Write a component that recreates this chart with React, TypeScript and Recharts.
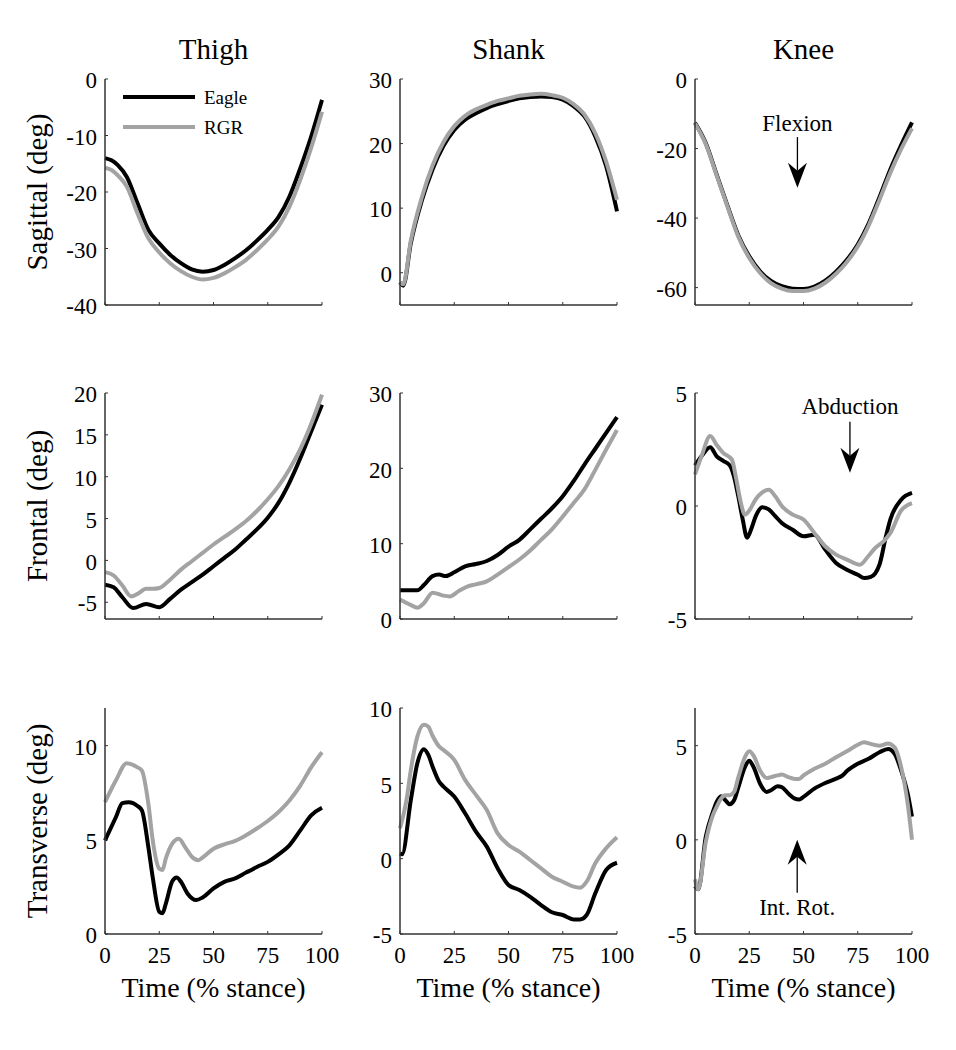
import React from 'react';
import { LineChart, Line, XAxis, YAxis, ReferenceLine, ReferenceDot, Legend } from 'recharts';

type Pt = [number, number];

// [time % stance, angle deg]
const thighSagEagle: Pt[] = [[0,-14],[3,-14.4],[6,-15.3],[10,-17.3],[15,-22],[20,-26.7],[25,-29.1],[30,-31.1],[35,-32.6],[40,-33.7],[45,-34.1],[50,-33.8],[55,-32.9],[60,-31.7],[65,-30.3],[70,-28.6],[75,-26.7],[80,-24.4],[85,-20.8],[90,-15.8],[95,-10.2],[100,-3.7]];
const thighSagRgr: Pt[] = [[0,-15.7],[3,-16.1],[6,-17.1],[10,-19],[15,-23.8],[20,-28.2],[25,-30.7],[30,-32.6],[35,-34],[40,-35],[45,-35.5],[50,-35.2],[55,-34.4],[60,-33.3],[65,-32],[70,-30.3],[75,-28.4],[80,-26.1],[85,-22.6],[90,-17.8],[95,-12.2],[100,-5.8]];
const shankSagEagle: Pt[] = [[0,-1.5],[1.5,-2],[5,4.6],[10,11.1],[15,16],[20,19.6],[25,22.1],[30,23.7],[35,24.7],[40,25.5],[45,26.1],[50,26.6],[55,27],[60,27.2],[65,27.3],[70,27.2],[75,26.8],[80,25.8],[85,24.2],[90,21.1],[95,16.5],[100,9.5]];
const shankSagRgr: Pt[] = [[0,-1.5],[1.5,-1.8],[5,5],[10,11.6],[15,16.6],[20,20.2],[25,22.7],[30,24.3],[35,25.3],[40,26],[45,26.6],[50,27],[55,27.4],[60,27.6],[65,27.7],[70,27.5],[75,27.1],[80,26.1],[85,24.5],[90,21.6],[95,17.2],[100,11.3]];
const kneeSagEagle: Pt[] = [[0,-12.6],[5,-18.5],[10,-27.5],[15,-36.5],[20,-45],[25,-51],[30,-55.3],[35,-58.1],[40,-59.6],[45,-60.3],[50,-60.4],[55,-59.7],[60,-58],[65,-55.4],[70,-52],[75,-47.6],[80,-41.6],[85,-34],[90,-26],[95,-19],[100,-12.5]];
const kneeSagRgr: Pt[] = [[0,-12.8],[5,-18.8],[10,-27.8],[15,-36.8],[20,-45.4],[25,-51.5],[30,-55.8],[35,-58.7],[40,-60.3],[45,-61],[50,-61],[55,-60.3],[60,-58.6],[65,-56],[70,-52.6],[75,-48.2],[80,-42.2],[85,-34.8],[90,-27],[95,-20.2],[100,-14.2]];

const thighFrontEagle: Pt[] = [[0,-2.9],[4,-3.2],[8,-4.4],[13,-5.7],[19,-5.2],[25,-5.6],[30,-4.6],[35,-3.5],[40,-2.6],[45,-1.7],[50,-0.7],[55,0.3],[60,1.3],[65,2.5],[70,3.7],[75,5.1],[80,6.9],[85,9.3],[90,12.2],[95,15.4],[100,18.6]];
const thighFrontRgr: Pt[] = [[0,-1.4],[4,-1.8],[8,-3],[12,-4.3],[15,-4],[19,-3.4],[22,-3.4],[25,-3.3],[30,-2.3],[35,-1.1],[40,-0.1],[45,0.9],[50,1.9],[55,2.8],[60,3.7],[65,4.7],[70,5.9],[75,7.3],[80,8.9],[85,10.9],[90,13.3],[95,16.3],[100,19.8]];
const shankFrontEagle: Pt[] = [[0,3.8],[4,3.8],[8,3.8],[11,4.5],[15,5.7],[18,5.9],[21,5.7],[25,6.2],[30,7],[35,7.3],[40,7.7],[45,8.5],[50,9.6],[55,10.5],[60,11.9],[65,13.3],[70,14.7],[75,16.3],[80,18.3],[85,20.5],[90,22.6],[95,24.7],[100,26.8]];
const shankFrontRgr: Pt[] = [[0,2.6],[4,2],[8,1.5],[11,2.1],[15,3.5],[20,3.1],[23,3],[27,3.7],[31,4.3],[35,4.6],[40,5],[45,5.9],[50,6.9],[55,7.9],[60,9.1],[65,10.5],[70,11.9],[75,13.6],[80,15.4],[85,17.2],[90,19.8],[95,22.5],[100,25.1]];
const kneeFrontEagle: Pt[] = [[0,1.8],[3,2.2],[7,2.6],[10,2.2],[13,2],[16,1.8],[18,1.3],[20,0.4],[22,-0.6],[24,-1.4],[26,-1],[28,-0.45],[31,-0.05],[34,-0.15],[37,-0.45],[40,-0.75],[45,-1.05],[50,-1.34],[55,-1.27],[60,-1.93],[65,-2.52],[70,-2.82],[75,-3.04],[78,-3.19],[81,-3.14],[85,-2.6],[88,-1.34],[90,-0.6],[95,0.28],[100,0.58]];
const kneeFrontRgr: Pt[] = [[0,1.4],[3,2.2],[7,3.1],[10,2.7],[13,2.35],[17,2.05],[19,1.2],[21,0.2],[23,-0.38],[25,-0.2],[28,0.3],[31,0.6],[34,0.72],[37,0.43],[40,0],[45,-0.38],[50,-0.6],[55,-1.19],[60,-1.78],[65,-2.15],[70,-2.37],[76,-2.6],[80,-2.2],[83,-1.86],[87,-1.55],[90,-1.2],[95,-0.2],[100,0.13]];

const thighTransEagle: Pt[] = [[0,4.97],[5,6.2],[8,6.95],[11,7],[15,6.8],[17,6.56],[20,4.6],[22,3],[25,1.18],[26.5,1.1],[28,1.6],[31,2.8],[33,3],[35,2.77],[38,2.15],[42,1.8],[45,1.94],[50,2.42],[55,2.77],[60,2.95],[65,3.26],[70,3.56],[75,3.83],[80,4.23],[85,4.71],[90,5.5],[95,6.3],[100,6.7]];
const thighTransRgr: Pt[] = [[0,7],[5,8.15],[10,9.07],[15,8.85],[17,8.68],[20,6.9],[22,4.97],[25,3.47],[26.5,3.4],[28,4],[31,4.8],[34,5.06],[37,4.6],[40,4.1],[43,3.92],[45,4.06],[50,4.53],[55,4.76],[60,4.94],[65,5.24],[70,5.6],[75,6],[80,6.48],[85,7.09],[90,7.88],[95,8.85],[100,9.65]];
const shankTransEagle: Pt[] = [[0,0.35],[1,0.3],[5,3.9],[8,6.34],[11,7.27],[13,6.9],[15,6.12],[18,5.12],[20,4.79],[25,4.12],[30,3.01],[35,1.79],[40,0.8],[45,-0.64],[50,-1.75],[55,-2.08],[60,-2.53],[65,-3.08],[70,-3.56],[75,-3.74],[80,-4.03],[83,-4.03],[86,-3.74],[90,-2.3],[95,-0.75],[100,-0.27]];
const shankTransRgr: Pt[] = [[0,2.02],[3,3.9],[5,5.9],[8,8.1],[11,8.89],[13,8.77],[15,8.16],[18,7.45],[20,7.22],[25,6.56],[30,5.23],[35,4.23],[40,3.23],[45,1.68],[50,0.91],[55,0.47],[60,-0.09],[65,-0.64],[70,-1.2],[75,-1.53],[80,-1.86],[83,-1.93],[86,-1.53],[90,-0.31],[95,0.69],[100,1.42]];
const kneeTransEagle: Pt[] = [[0,-2.46],[1.5,-2.63],[5,0.18],[8,1.4],[10,2.02],[12,2.32],[14,2.1],[16,1.89],[18,2.1],[20,2.8],[23,3.86],[25,4.2],[27,3.86],[30,2.98],[33,2.54],[35,2.63],[38,2.84],[40,2.8],[43,2.46],[46,2.19],[48,2.14],[50,2.28],[55,2.72],[60,3.02],[65,3.25],[68,3.42],[70,3.65],[75,4.04],[80,4.3],[85,4.65],[89,4.82],[92,4.56],[95,3.68],[98,2.46],[100,1.23]];
const kneeTransRgr: Pt[] = [[0,-2.1],[1.5,-2.63],[5,-0.09],[8,1.23],[10,1.75],[12,2.19],[14,2.37],[16,2.37],[18,2.54],[20,3.33],[23,4.39],[25,4.7],[27,4.47],[30,3.68],[33,3.28],[35,3.33],[38,3.42],[40,3.47],[43,3.33],[46,3.23],[48,3.23],[50,3.42],[55,3.77],[60,4.04],[65,4.39],[70,4.7],[75,5.05],[78,5.18],[80,5.12],[85,5],[89,5.12],[92,4.91],[95,3.86],[98,1.93],[100,0]];

const timeTicks = [0, 25, 50, 75, 100];
const colTitles = ['Thigh', 'Shank', 'Knee'];
const rowLabels = ['Sagittal (deg)', 'Frontal (deg)', 'Transverse (deg)'];

const FONT = '"Liberation Serif", "Times New Roman", serif';
const AXIS = '#333';
const GRAY = '#a3a3a3';

const PLOT_W = 217;
const PLOT_H = 226;
const AX_W = 100;
const TOP = 60;
const RIGHT = 32;
const AX_H = 100;
const colX = [105, 400, 695];
const rowY = [79, 393, 708];

const toRows = (pts: Pt[]) => pts.map(([t, v]) => ({ t, v }));

type Note = { text: string; x: number; textY: number; from: number; to: number };

type PanelCfg = {
  row: number;
  col: number;
  eagle: Pt[];
  rgr: Pt[];
  domain: [number, number];
  ticks: number[];
  note?: Note;
  legend?: boolean;
};

const panels: PanelCfg[] = [
  { row: 0, col: 0, eagle: thighSagEagle, rgr: thighSagRgr, domain: [-40, 0], ticks: [-40, -30, -20, -10, 0], legend: true },
  { row: 0, col: 1, eagle: shankSagEagle, rgr: shankSagRgr, domain: [-5, 30], ticks: [0, 10, 20, 30] },
  { row: 0, col: 2, eagle: kneeSagEagle, rgr: kneeSagRgr, domain: [-65, 0], ticks: [-60, -40, -20, 0],
    note: { text: 'Flexion', x: 47.2, textY: -15, from: -16.7, to: -31.3 } },
  { row: 1, col: 0, eagle: thighFrontEagle, rgr: thighFrontRgr, domain: [-7, 20], ticks: [-5, 0, 5, 10, 15, 20] },
  { row: 1, col: 1, eagle: shankFrontEagle, rgr: shankFrontRgr, domain: [0, 30], ticks: [0, 10, 20, 30] },
  { row: 1, col: 2, eagle: kneeFrontEagle, rgr: kneeFrontRgr, domain: [-5, 5], ticks: [-5, 0, 5],
    note: { text: 'Abduction', x: 71.4, textY: 4.07, from: 3.73, to: 1.47 } },
  { row: 2, col: 0, eagle: thighTransEagle, rgr: thighTransRgr, domain: [0, 12], ticks: [0, 5, 10] },
  { row: 2, col: 1, eagle: shankTransEagle, rgr: shankTransRgr, domain: [-5, 10], ticks: [-5, 0, 5, 10] },
  { row: 2, col: 2, eagle: kneeTransEagle, rgr: kneeTransRgr, domain: [-5, 7], ticks: [-5, 0, 5],
    note: { text: 'Int. Rot.', x: 47.1, textY: -4.0, from: -2.81, to: 0 } },
];

const TimeTick = (props: any) => {
  const { x, y, payload, show } = props;
  return (
    <g>
      <line x1={x} x2={x} y1={y} y2={y - 3} stroke={AXIS} strokeWidth={1} />
      {show && (
        <text x={x} y={y + 29} textAnchor="middle" fontSize={23} fill="#000" fontFamily={FONT}>
          {payload.value}
        </text>
      )}
    </g>
  );
};

const AngleTick = (props: any) => {
  const { x, y, payload } = props;
  return (
    <g>
      <line x1={x} x2={x + 3} y1={y} y2={y} stroke={AXIS} strokeWidth={1} />
      <text x={x - 8} y={y} dy="0.4em" textAnchor="end" fontSize={23} fill="#000" fontFamily={FONT}>
        {payload.value}
      </text>
    </g>
  );
};

const Arrow = (p: any) => {
  const { x1, y1, x2, y2 } = p;
  const dir = y2 > y1 ? 1 : -1;
  const len = 25;
  const half = 9.5;
  const notch = 17;
  const pts = `${x2},${y2} ${x2 - half},${y2 - dir * len} ${x2},${y2 - dir * notch} ${x2 + half},${y2 - dir * len}`;
  return (
    <g>
      <line x1={x1} y1={y1} x2={x2} y2={y2 - dir * notch} stroke="#000" strokeWidth={1.3} />
      <polygon points={pts} fill="#000" />
    </g>
  );
};

const LegendBox = (props: any) => {
  const items = props.payload || [];
  return (
    <svg width={200} height={60}>
      {items.map((it: any, i: number) => (
        <g key={it.value}>
          <line x1={0} x2={72} y1={10 + i * 30} y2={10 + i * 30} stroke={it.color} strokeWidth={4} />
          <text x={81} y={10 + i * 30 + 7} fontSize={19} fontFamily={FONT} fill="#000">{it.value}</text>
        </g>
      ))}
    </svg>
  );
};

const Panel = ({ cfg }: { cfg: PanelCfg }) => {
  const { row, col, eagle, rgr, domain, ticks, note, legend } = cfg;
  const bottomRow = row === 2;
  return (
    <div style={{ position: 'absolute', left: colX[col] - AX_W, top: rowY[row] - TOP }}>
      <LineChart
        width={AX_W + PLOT_W + RIGHT}
        height={TOP + PLOT_H + AX_H}
        margin={{ top: TOP, right: RIGHT, bottom: 0, left: 0 }}
      >
        <XAxis
          type="number"
          dataKey="t"
          domain={[0, 100]}
          ticks={timeTicks}
          interval={0}
          height={AX_H}
          tickSize={0}
          tickMargin={0}
          tickLine={false}
          axisLine={{ stroke: AXIS, strokeWidth: 1.5 }}
          tick={(p: any) => <TimeTick {...p} show={bottomRow} />}
          label={
            bottomRow
              ? {
                  content: (lp: any) => {
                    const vb = lp.viewBox;
                    return (
                      <text x={vb.x + vb.width / 2} y={vb.y + 63} textAnchor="middle" fontSize={28} fontFamily={FONT} fill="#000">
                        Time (% stance)
                      </text>
                    );
                  },
                }
              : undefined
          }
        />
        <YAxis
          type="number"
          domain={domain}
          ticks={ticks}
          interval={0}
          width={AX_W}
          tickSize={0}
          tickMargin={0}
          tickLine={false}
          axisLine={{ stroke: AXIS, strokeWidth: 1.5 }}
          tick={(p: any) => <AngleTick {...p} />}
          label={
            col === 0
              ? {
                  content: (lp: any) => {
                    const vb = lp.viewBox;
                    const cx = vb.x + 42;
                    const cy = vb.y + vb.height / 2;
                    return (
                      <text x={cx} y={cy} transform={`rotate(-90 ${cx} ${cy})`} textAnchor="middle" fontSize={29} fontFamily={FONT} fill="#000">
                        {rowLabels[row]}
                      </text>
                    );
                  },
                }
              : undefined
          }
        />
        <Line data={toRows(eagle)} dataKey="v" name="Eagle" type="monotone" stroke="#000" strokeWidth={4} dot={false} isAnimationActive={false} />
        <Line data={toRows(rgr)} dataKey="v" name="RGR" type="monotone" stroke={GRAY} strokeWidth={4} dot={false} isAnimationActive={false} />
        {note && (
          <ReferenceLine
            segment={[{ x: note.x, y: note.from }, { x: note.x, y: note.to }]}
            shape={(p: any) => <Arrow {...p} />}
            ifOverflow="visible"
          />
        )}
        {note && (
          <ReferenceDot
            x={note.x}
            y={note.textY}
            r={0}
            ifOverflow="visible"
            shape={(p: any) => (
              <text x={p.cx} y={p.cy} textAnchor="middle" fontSize={23} fontFamily={FONT} fill="#000">
                {note.text}
              </text>
            )}
          />
        )}
        {legend && (
          <Legend
            layout="horizontal"
            verticalAlign="middle"
            align="center"
            wrapperStyle={{ left: 118, top: 68, width: 200, height: 60 }}
            content={(lp: any) => <LegendBox payload={lp.payload} />}
          />
        )}
      </LineChart>
    </div>
  );
};

export default function App() {
  return (
    <div style={{ position: 'absolute', left: 0, top: 0, width: 956, height: 1050, background: '#fff', fontFamily: FONT }}>
      {colTitles.map((t, i) => (
        <div
          key={t}
          style={{
            position: 'absolute',
            left: colX[i] + PLOT_W / 2 - 100,
            top: 35,
            width: 200,
            textAlign: 'center',
            fontSize: 29,
            lineHeight: '29px',
            color: '#000',
          }}
        >
          {t}
        </div>
      ))}
      {panels.map((cfg) => (
        <Panel key={`${cfg.row}-${cfg.col}`} cfg={cfg} />
      ))}
    </div>
  );
}
